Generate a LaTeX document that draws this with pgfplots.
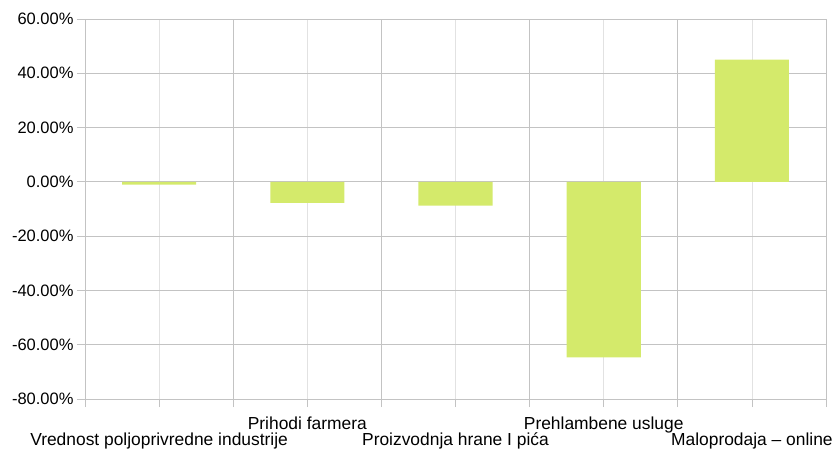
\documentclass[border=0pt]{standalone}
\usepackage{fontspec}
\setmainfont{Liberation Sans}
\usepackage{pgfplots}
\pgfplotsset{compat=1.18}
\definecolor{barlime}{RGB}{212,234,107}
\definecolor{gridmaj}{RGB}{195,195,195}
\definecolor{gridmin}{RGB}{226,226,226}
\begin{document}
\begin{tikzpicture}
\begin{axis}[
    scale only axis,
    width=741bp, height=380bp,
    font=\fontsize{16.5bp}{19bp}\selectfont,
    xmin=-0.5, xmax=4.5,
    ymin=-80, ymax=60,
    ytick={-80,-60,...,60},
    xtick={0,1,2,3,4},
    minor xtick={-0.5,0.5,1.5,2.5,3.5,4.5},
    xticklabels={Vrednost poljoprivredne industrije,Prihodi farmera,Proizvodnja hrane I pića,Prehlambene usluge,Maloprodaja – online},
    xticklabel style={anchor=north, font=\fontsize{17.4bp}{20bp}\selectfont,
        yshift={-6-16*(1-mod(\ticknum,2))}},
    yticklabel={\pgfmathprintnumber{\tick}\%},
    yticklabel style={/pgf/number format/.cd, fixed, fixed zerofill, precision=2, assume math mode=true},
    ymajorgrids, xmajorgrids, xminorgrids,
    major grid style={gridmin, line width=0.8bp},
    minor grid style={gridmaj, line width=0.8bp},
    y grid style={gridmaj, line width=0.8bp},
    axis line style={gridmaj, line width=0.8bp},
    tick style={gridmaj, line width=0.8bp},
    tick align=outside,
    major tick length=8bp,
    minor tick length=8bp,
    xtick pos=bottom, ytick pos=left,
    axis x line*=bottom, axis y line*=left,
    separate axis lines,
    every outer x axis line/.append style={-},
    every outer y axis line/.append style={-},
    ybar, bar width=0.5,
    bar shift=0pt,
    clip=false,
]
\addplot[fill=barlime, draw=none] coordinates {(0,-1.0) (1,-7.7) (2,-8.8) (3,-64.7) (4,45.0)};
\coordinate (O) at (rel axis cs:0,0);
\end{axis}
\pgfresetboundingbox
\path (O) ++(-85bp,-50bp) rectangle ++(832bp,449bp);
\end{tikzpicture}
\end{document}
